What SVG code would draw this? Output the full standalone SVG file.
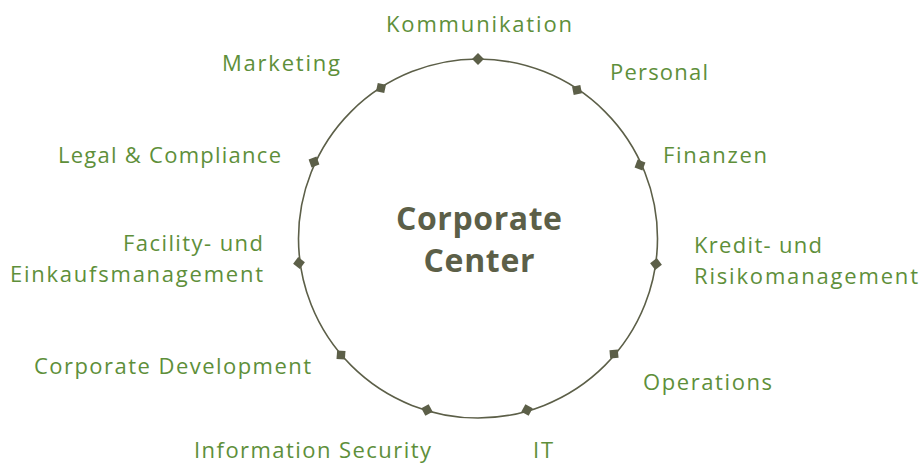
<svg xmlns="http://www.w3.org/2000/svg" width="921" height="463" viewBox="0 0 921 463">
<style>
.lbl{font-family:"Open Sans","Noto Sans",sans-serif;font-size:22px;fill:#5e8f3a}
.ctr{font-family:"Open Sans","Noto Sans",sans-serif;font-size:32px;font-weight:bold;fill:#5c5f48}
.mk{fill:#5c5f48}
</style>
<defs><rect id="m" x="-4.2" y="-4.2" width="8.4" height="8.4"/></defs>
<rect width="921" height="463" fill="#fff"/>
<g id="connectors">
<circle cx="478" cy="238.5" r="179.5" fill="none" stroke="#5c5f48" stroke-width="1.6"/>
</g>
<g id="center">
<text class="ctr" x="479" y="230" text-anchor="middle" textLength="166" lengthAdjust="spacing">Corporate</text>
<text class="ctr" x="479" y="272" text-anchor="middle" textLength="111" lengthAdjust="spacing">Center</text>
</g>
<g id="kommunikation"><use href="#m" class="mk" transform="translate(478,59) rotate(-45)"/><text class="lbl" x="479" y="32" text-anchor="middle" textLength="186" lengthAdjust="spacing">Kommunikation</text></g>
<g id="personal"><use href="#m" class="mk" transform="translate(577,90) rotate(-11)"/><text class="lbl" x="610" y="80" textLength="98" lengthAdjust="spacing">Personal</text></g>
<g id="finanzen"><use href="#m" class="mk" transform="translate(640,165) rotate(21)"/><text class="lbl" x="663" y="163" textLength="104" lengthAdjust="spacing">Finanzen</text></g>
<g id="kredit"><use href="#m" class="mk" transform="translate(656,264) rotate(53)"/><text class="lbl" x="694" y="253" textLength="128" lengthAdjust="spacing">Kredit- und</text><text class="lbl" x="694" y="284" textLength="224" lengthAdjust="spacing">Risikomanagement</text></g>
<g id="operations"><use href="#m" class="mk" transform="translate(614,354) rotate(85)"/><text class="lbl" x="643" y="390" textLength="129" lengthAdjust="spacing">Operations</text></g>
<g id="it"><use href="#m" class="mk" transform="translate(527,410) rotate(119)"/><text class="lbl" x="533" y="458" textLength="20" lengthAdjust="spacing">IT</text></g>
<g id="infosec"><use href="#m" class="mk" transform="translate(427,410) rotate(151)"/><text class="lbl" x="431" y="458" text-anchor="end" textLength="237" lengthAdjust="spacing">Information Security</text></g>
<g id="corpdev"><use href="#m" class="mk" transform="translate(341,355) rotate(184)"/><text class="lbl" x="311" y="374" text-anchor="end" textLength="277" lengthAdjust="spacing">Corporate Development</text></g>
<g id="facility"><use href="#m" class="mk" transform="translate(299,263) rotate(217)"/><text class="lbl" x="263" y="251" text-anchor="end" textLength="140" lengthAdjust="spacing">Facility- und</text><text class="lbl" x="263" y="282" text-anchor="end" textLength="253" lengthAdjust="spacing">Einkaufsmanagement</text></g>
<g id="legal"><use href="#m" class="mk" transform="translate(314,162) rotate(250)"/><text class="lbl" x="281" y="163" text-anchor="end" textLength="223" lengthAdjust="spacing">Legal &amp; Compliance</text></g>
<g id="marketing"><use href="#m" class="mk" transform="translate(381,88) rotate(282)"/><text class="lbl" x="340" y="71" text-anchor="end" textLength="118" lengthAdjust="spacing">Marketing</text></g>
</svg>
